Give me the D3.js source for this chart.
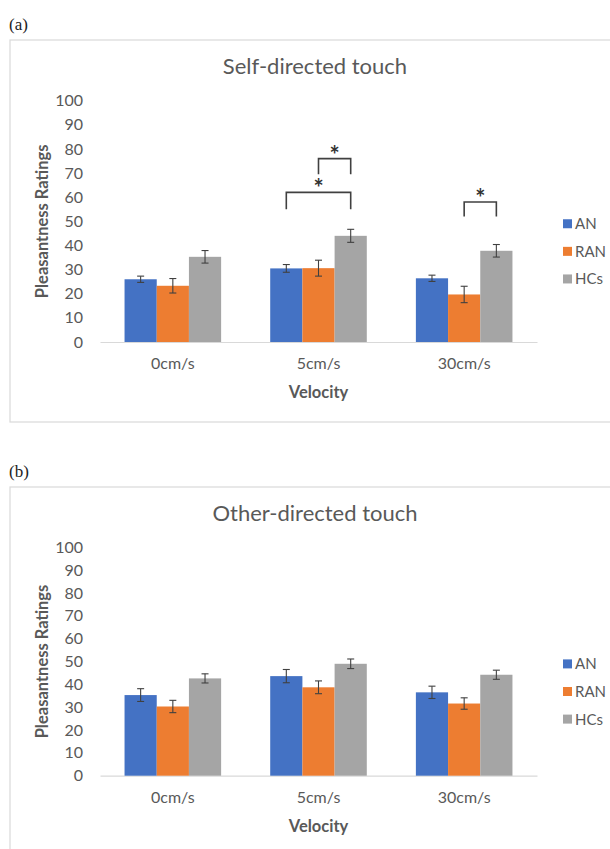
<!DOCTYPE html>
<html>
<head>
<meta charset="utf-8">
<script src="https://cdn.jsdelivr.net/npm/d3@7"></script>
<style>
  body { margin: 0; background: #fff; }
  svg text { font-family: Lato, "Open Sans", sans-serif; fill: #595959; }
</style>
</head>
<body>
<div id="chart"></div>
<script>
// chart data
const categories = ['0cm/s', '5cm/s', '30cm/s'];
const groups = ['AN', 'RAN', 'HCs'];
const colors = ['#4472C4', '#ED7D31', '#A5A5A5'];
const yTicks = [0, 10, 20, 30, 40, 50, 60, 70, 80, 90, 100];

// (a) self-directed touch
const selfAN = [26.0, 30.5, 26.4];
const selfANErr = [1.3, 1.6, 1.3];
const selfRAN = [23.3, 30.6, 19.7];
const selfRANErr = [3.0, 3.3, 3.4];
const selfHC = [35.3, 44.0, 37.8];
const selfHCErr = [2.6, 2.7, 2.6];
// significance brackets: category, from group, to group, top value, leg end value
const selfSig = [
    { cat: '5cm/s', from: 'RAN', to: 'HCs', top: 76, end: 69.5 },
    { cat: '5cm/s', from: 'AN', to: 'HCs', top: 62, end: 55 },
    { cat: '30cm/s', from: 'RAN', to: 'HCs', top: 58, end: 52 }
];

// (b) other-directed touch
const otherAN = [35.3, 43.6, 36.5];
const otherANErr = [2.8, 2.9, 2.7];
const otherRAN = [30.3, 38.7, 31.6];
const otherRANErr = [2.7, 2.8, 2.5];
const otherHC = [42.6, 49.0, 44.2];
const otherHCErr = [2.0, 2.1, 2.0];

const W = 610, H = 849;
const svg = d3.select('#chart').append('svg').attr('width', W).attr('height', H);

function drawPanel(cfg) {
    const g = svg.append('g');

    // panel label + frame
    svg.append('text').attr('x', 9).attr('y', cfg.labelY)
        .style('font-family', '"Liberation Serif", serif').style('font-size', '17px').style('fill', '#222')
        .text(cfg.label);
    g.append('rect').attr('x', 10).attr('y', cfg.boxTop).attr('width', 640).attr('height', cfg.boxHeight)
        .attr('fill', 'none').attr('stroke', '#d9d9d9').attr('stroke-width', 1.2);

    g.append('text').attr('x', 315).attr('y', cfg.boxTop + 34).attr('text-anchor', 'middle')
        .style('font-size', '22px').text(cfg.title);

    const x0 = d3.scaleBand().domain(categories).range([100, 537]).paddingInner(0.337).paddingOuter(0.1685);
    const x1 = d3.scaleBand().domain(groups).range([0, x0.bandwidth()]);
    const y = d3.scaleLinear().domain([0, 100]).range([cfg.plotBottom, cfg.plotTop]);

    // y axis labels only
    const yAxis = g.append('g').attr('transform', 'translate(84,0)')
        .call(d3.axisLeft(y).tickValues(yTicks).tickSize(0).tickPadding(1));
    yAxis.select('.domain').remove();
    yAxis.selectAll('text').style('font-size', '16px').attr('fill', '#595959');

    // x axis
    const xAxis = g.append('g').attr('transform', `translate(0,${cfg.plotBottom})`)
        .call(d3.axisBottom(x0).tickSize(0).tickPadding(16));
    xAxis.select('.domain').attr('stroke', '#d9d9d9').attr('stroke-width', 1.2);
    xAxis.selectAll('text').style('font-size', '16px').attr('fill', '#595959');

    // bars
    const rows = [];
    categories.forEach((c, i) => {
        cfg.series.forEach((s, j) => {
            rows.push({ cat: c, grp: groups[j], v: s.vals[i], e: s.errs[i], col: colors[j] });
        });
    });
    g.selectAll('.bar').data(rows).enter().append('rect')
        .attr('class', 'bar')
        .attr('x', d => x0(d.cat) + x1(d.grp))
        .attr('y', d => y(d.v))
        .attr('width', x1.bandwidth())
        .attr('height', d => y(0) - y(d.v))
        .attr('fill', d => d.col);

    // error bars
    const eb = g.selectAll('.err').data(rows).enter().append('g').attr('class', 'err')
        .attr('stroke', '#404040').attr('stroke-width', 1.1);
    const cx = d => x0(d.cat) + x1(d.grp) + x1.bandwidth() / 2;
    eb.append('line').attr('x1', cx).attr('x2', cx).attr('y1', d => y(d.v + d.e)).attr('y2', d => y(d.v - d.e));
    eb.append('line').attr('x1', d => cx(d) - 3.5).attr('x2', d => cx(d) + 3.5).attr('y1', d => y(d.v + d.e)).attr('y2', d => y(d.v + d.e));
    eb.append('line').attr('x1', d => cx(d) - 3.5).attr('x2', d => cx(d) + 3.5).attr('y1', d => y(d.v - d.e)).attr('y2', d => y(d.v - d.e));

    // significance brackets
    const centre = (c, grp) => x0(c) + x1(grp) + x1.bandwidth() / 2;
    cfg.sig.forEach(b => {
        const xa = centre(b.cat, b.from), xb = centre(b.cat, b.to);
        g.append('path')
            .attr('d', `M${xa},${y(b.end)}V${y(b.top)}H${xb}V${y(b.end)}`)
            .attr('fill', 'none').attr('stroke', '#404040').attr('stroke-width', 1.6);
        g.append('text').attr('x', (xa + xb) / 2).attr('y', y(b.top) + 5).attr('text-anchor', 'middle')
            .style('font-size', '24px').style('font-weight', 'bold').style('fill', '#333').text('*');
    });

    // legend
    const legMid = (cfg.plotTop + cfg.plotBottom) / 2 + 30;
    groups.forEach((grp, j) => {
        const ly = legMid + (j - 1) * 27.6;
        g.append('rect').attr('x', 563).attr('y', ly - 4.5).attr('width', 9).attr('height', 9).attr('fill', colors[j]);
        g.append('text').attr('x', 575).attr('y', ly + 5.5).style('font-size', '15px').text(grp);
    });

    // axis titles
    g.append('text').attr('x', 318.5).attr('y', cfg.plotBottom + 56).attr('text-anchor', 'middle')
        .style('font-size', '16.5px').style('font-weight', 'bold').text('Velocity');
    g.append('text')
        .attr('transform', `translate(48,${(cfg.plotTop + cfg.plotBottom) / 2}) rotate(-90)`)
        .attr('text-anchor', 'middle')
        .style('font-size', '16.5px').style('font-weight', 'bold').text('Pleasantness Ratings');
}

drawPanel({
    label: '(a)', labelY: 30, boxTop: 40, boxHeight: 382,
    title: 'Self-directed touch', plotTop: 100.7, plotBottom: 342,
    series: [
        { vals: selfAN, errs: selfANErr },
        { vals: selfRAN, errs: selfRANErr },
        { vals: selfHC, errs: selfHCErr }
    ],
    sig: selfSig
});

drawPanel({
    label: '(b)', labelY: 477, boxTop: 487, boxHeight: 400,
    title: 'Other-directed touch', plotTop: 547.3, plotBottom: 775.7,
    series: [
        { vals: otherAN, errs: otherANErr },
        { vals: otherRAN, errs: otherRANErr },
        { vals: otherHC, errs: otherHCErr }
    ],
    sig: []
});
</script>
</body>
</html>
